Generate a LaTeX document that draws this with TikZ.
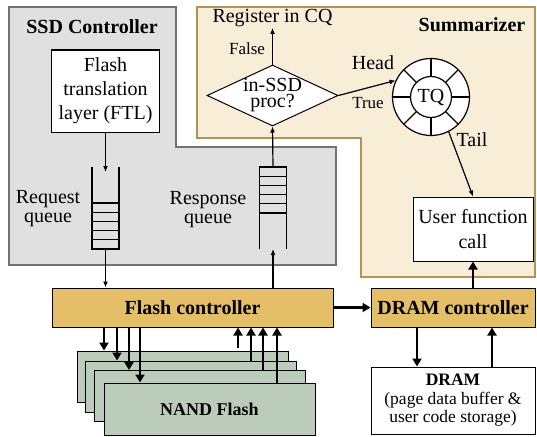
\documentclass[tikz,border=0pt]{standalone}
\usepackage{fontspec}
\setmainfont{Liberation Serif}
\usepackage{tikz}
\usetikzlibrary{arrows.meta,positioning,shapes.geometric,calc}
\definecolor{SsdGray}{RGB}{224,224,224}
\definecolor{SsdEdge}{RGB}{115,115,115}
\definecolor{SumFill}{RGB}{248,238,216}
\definecolor{SumEdge}{RGB}{178,148,88}
\definecolor{Ctrl}{RGB}{229,191,104}
\definecolor{Nand}{RGB}{187,205,186}

\begin{document}
\begin{tikzpicture}[x=1pt, y=-1pt,
    txt/.style={inner sep=1pt, font=\fontsize{20}{19}\selectfont, align=center},
    small/.style={inner sep=1pt, font=\fontsize{17}{19}\selectfont},
    title/.style={inner sep=1pt, font=\fontsize{20}{24}\selectfont\bfseries},
    box/.style={draw, fill=white, line width=1pt, align=center, inner sep=0pt},
    ctrl/.style={draw, fill=Ctrl, line width=1pt, minimum height=39pt, inner sep=0pt,
      font=\fontsize{20}{24}\selectfont\bfseries},
    nand/.style={draw, fill=Nand, line width=1pt, minimum width=211pt, minimum height=51pt, inner sep=0pt},
    queue/.style={minimum width=27pt, minimum height=82pt, inner sep=0pt, outer sep=0pt},
    link/.style={-{Latex[length=6pt,width=5pt]}, line width=1.2pt},
    bus/.style={-{Triangle[length=8pt,width=9pt]}, line width=2.4pt}]
    \useasboundingbox (0,0) rectangle (537,436);

    % regions
    \draw[fill=SsdGray, draw=SsdEdge, line width=1.8pt]
      (9,7) -- (176,7) -- (176,147) -- (336,147) -- (336,265) -- (9,265) -- cycle;
    \draw[fill=SumFill, draw=SumEdge, line width=1.8pt]
      (197,7) -- (535,7) -- (535,277) -- (361,277) -- (361,138) -- (197,138) -- cycle;
    \node[title] (ssdlbl) at (92,27) {SSD Controller};
    \node[title] (sumlbl) at (472,25) {Summarizer};

    % SSD controller side
    \node[box, minimum width=108pt, minimum height=82pt, font=\fontsize{20}{24}\selectfont] (ftl) at (105.5,91) {Flash\\translation\\layer (FTL)};
    \node[queue] (reqq) at (105.5,208) {};
    \draw[line width=1.2pt] (reqq.north west) -- (reqq.south west) -- (reqq.south east) -- (reqq.north east);
    \foreach \k in {1,...,5}
      \draw[line width=1.2pt] ($(reqq.south west)+(0,-9.2*\k)$) -- ++(27,0);
    \node[queue] (resq) at (273,208) {};
    \draw[line width=1.2pt] (resq.south west) -- (resq.north west) -- (resq.north east) -- (resq.south east);
    \foreach \k in {1,...,5}
      \draw[line width=1.2pt] ($(resq.north west)+(0,9.2*\k)$) -- ++(27,0);
    \node[txt] (reqlbl) at (48,209) {Request\\queue};
    \node[txt] (reslbl) at (208,210) {Response\\queue};

    % summarizer side
    \node[draw, fill=white, diamond, aspect=2.15, minimum width=131pt, minimum height=61pt, inner sep=0pt,
      line width=1pt, align=center, font=\fontsize{20}{16}\selectfont] (insitu) at (272.5,95.5) {in-SSD\\proc?};
    \node[txt] (reg) at (272.5,18) {Register in CQ};
    \node[small] (falselbl) at (247,49) {False};
    \node[circle, draw, fill=white, minimum size=77pt, line width=1.2pt] (tqring) at (431,97) {};
    \foreach \a in {0,45,...,315}
      \draw[line width=1.2pt] (tqring.center) ++(\a:20.5) -- ++(\a:18);
    \node[circle, draw, fill=white, minimum size=41pt, inner sep=0pt, line width=1.2pt,
      font=\fontsize{20}{24}\selectfont] (tq) at (tqring.center) {TQ};
    \node[txt] (headlbl) at (373,63) {Head};
    \node[small] (truelbl) at (368,103) {True};
    \node[txt] (taillbl) at (472,140) {Tail};
    \node[box, minimum width=120pt, minimum height=64pt, font=\fontsize{20}{25}\selectfont] (ufc) at (473,229) {User function\\call};

    % controllers and memories
    \node[ctrl, minimum width=281pt] (fc) at (192.5,307.5) {Flash controller};
    \node[ctrl, minimum width=164pt] (dc) at (453,307.5) {DRAM controller};
    \node[box, minimum width=164pt, minimum height=67pt, font=\fontsize{17.5}{18.5}\selectfont] (dram) at (453,400.5)
      {\textbf{DRAM}\\(page data buffer \&\\user code storage)};
    \foreach \i/\x/\y in {1/182.5/376.5, 2/190.5/386.5, 3/200/396}
      \node[nand] (nand\i) at (\x,\y) {};
    \node[nand, minimum height=52pt, font=\fontsize{18}{20}\selectfont\bfseries] (nand4) at (209.5,409) {NAND Flash};

    % connectors
    \draw[link] (ftl.south) -- ([yshift=-5pt]reqq.north);
    \draw[link] (reqq.south) -- (reqq.south |- fc.north);
    \draw[link] (resq.south |- fc.north) -- (resq.south);
    \draw[link] (resq.north) -- (insitu.south);
    \draw[link] (insitu.north) -- (reg.south);
    \draw[link] (insitu.east) -- (tqring.155);
    \draw[link] (tqring.-63) -- (ufc.north);
    \draw[bus] (fc.east) -- (dc.west);
    \draw[bus] (ufc.south |- dc.north) -- (ufc.south);
    \draw[bus] ([xshift=-36pt]dc.south) -- ([xshift=-36pt]dc.south |- dram.north);
    \draw[bus] ([xshift=39pt]dram.north) -- ([xshift=39pt]dram.north |- dc.south);
    \foreach \i/\dx/\ux/\gap in {1/104/238/3, 2/117/251/0, 3/129/263/0, 4/140/277/0} {
      \coordinate (dn) at (\dx,0);
      \coordinate (up) at (\ux,0);
      \draw[bus] (dn |- fc.south) -- (dn |- nand\i.north);
      \draw[bus] ([yshift=\gap pt]up |- nand\i.north) -- (up |- fc.south);
    }
  \end{tikzpicture}
\end{document}
